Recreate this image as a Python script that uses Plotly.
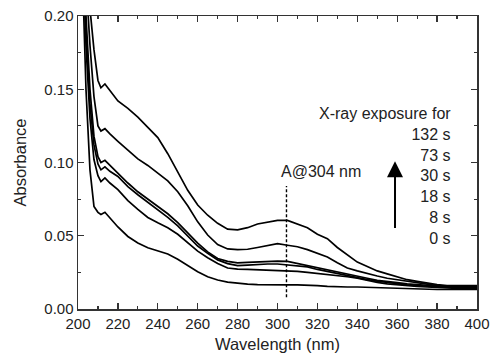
import plotly.graph_objects as go

wavelength = [200, 202, 204, 206, 208, 210, 211.5, 213.5, 216, 220, 225, 230, 235, 240, 245,
              250, 255, 260, 265, 270, 275, 280, 285, 290, 295, 300, 305, 310, 315, 320,
              325, 330, 335, 340, 345, 350, 355, 360, 365, 370, 375, 380, 385, 390, 395, 400]

abs_132s = [0.40, 0.32, 0.25, 0.205, 0.177, 0.156, 0.151, 0.1536, 0.149, 0.142, 0.137, 0.131, 0.124, 0.117, 0.106,
            0.093, 0.081, 0.071, 0.064, 0.0585, 0.0545, 0.054, 0.0555, 0.058, 0.0595, 0.0605, 0.0605, 0.058, 0.0555, 0.051,
            0.048, 0.042, 0.037, 0.032, 0.029, 0.026, 0.024, 0.022, 0.020, 0.0188, 0.0175, 0.0166, 0.016, 0.016, 0.016, 0.016]
abs_73s = [0.38, 0.30, 0.225, 0.18, 0.145, 0.125, 0.1215, 0.1231, 0.1195, 0.1145, 0.1085, 0.1025, 0.098, 0.093, 0.0875,
           0.080, 0.0705, 0.0595, 0.0505, 0.044, 0.041, 0.0405, 0.0408, 0.042, 0.0435, 0.0446, 0.0435, 0.0425, 0.0405, 0.038,
           0.0355, 0.0315, 0.028, 0.026, 0.024, 0.0225, 0.021, 0.020, 0.0188, 0.0177, 0.017, 0.016, 0.0155, 0.0155, 0.0155, 0.0155]
abs_30s = [0.36, 0.28, 0.20, 0.15, 0.118, 0.104, 0.100, 0.1015, 0.098, 0.093, 0.086, 0.080, 0.075, 0.0705, 0.065,
           0.059, 0.052, 0.045, 0.039, 0.0345, 0.0325, 0.0315, 0.0318, 0.0322, 0.0325, 0.0327, 0.0325, 0.031, 0.0296, 0.028,
           0.0265, 0.0252, 0.024, 0.0225, 0.021, 0.0195, 0.0185, 0.018, 0.0172, 0.0166, 0.016, 0.0155, 0.0152, 0.015, 0.015, 0.015]
abs_18s = [0.35, 0.27, 0.19, 0.14, 0.112, 0.099, 0.095, 0.097, 0.094, 0.0905, 0.0835, 0.078, 0.073, 0.068, 0.0625,
           0.0568, 0.050, 0.043, 0.038, 0.0335, 0.031, 0.0296, 0.030, 0.0305, 0.0307, 0.0307, 0.0302, 0.0295, 0.0287, 0.027,
           0.0255, 0.0242, 0.023, 0.0215, 0.020, 0.019, 0.018, 0.0172, 0.0165, 0.016, 0.0155, 0.015, 0.0148, 0.0145, 0.0145, 0.0145]
abs_8s = [0.34, 0.26, 0.18, 0.13, 0.102, 0.091, 0.087, 0.0895, 0.086, 0.0815, 0.074, 0.068, 0.0625, 0.0588, 0.0555,
          0.051, 0.0455, 0.0395, 0.035, 0.031, 0.028, 0.0272, 0.027, 0.0268, 0.0267, 0.0265, 0.0263, 0.0257, 0.025, 0.0243,
          0.0235, 0.0228, 0.022, 0.021, 0.0195, 0.0182, 0.0172, 0.0165, 0.016, 0.0155, 0.015, 0.0145, 0.0142, 0.014, 0.014, 0.014]
abs_0s = [0.33, 0.24, 0.15, 0.095, 0.070, 0.066, 0.0645, 0.066, 0.062, 0.056, 0.0495, 0.045, 0.0418, 0.0395, 0.0375,
          0.034, 0.0295, 0.0255, 0.022, 0.0198, 0.0183, 0.0175, 0.017, 0.0167, 0.0165, 0.0165, 0.0165, 0.0165, 0.0165, 0.016,
          0.0155, 0.015, 0.015, 0.015, 0.0148, 0.0145, 0.014, 0.0138, 0.0137, 0.0135, 0.0134, 0.0133, 0.0133, 0.0133, 0.0133, 0.0133]

series = [abs_0s, abs_8s, abs_18s, abs_30s, abs_73s, abs_132s]
exposure_labels = ["132 s", "73 s", "30 s", "18 s", "8 s", "0 s"]
legend_title = "X-ray exposure for"
marker_nm = 304.5
marker_range = [0.008, 0.084]
marker_label = "A@304 nm"

FONT = "Liberation Sans, Arial, sans-serif"

fig = go.Figure()
for ys in series:
    fig.add_trace(go.Scatter(x=wavelength, y=ys, mode="lines",
                             line=dict(color="black", width=1.7), showlegend=False,
                             hoverinfo="skip"))

fig.add_trace(go.Scatter(x=[marker_nm, marker_nm], y=marker_range, mode="lines",
                         line=dict(color="black", width=1.4, dash="3px,2px"), showlegend=False,
                         hoverinfo="skip"))

fig.add_annotation(x=marker_nm + 17.5, y=0.0936, text=marker_label, showarrow=False,
                   font=dict(size=16, color="#222", family=FONT), xanchor="center", yanchor="middle")

fig.add_annotation(x=388.1, y=0.0906, xref="x", yref="y",
                   text="<br>".join([legend_title] + exposure_labels),
                   showarrow=False, align="right", xanchor="right", yanchor="middle",
                   font=dict(size=16, color="#222", family=FONT))

fig.add_annotation(x=358.9, y=0.1008, ax=358.9, ay=0.0542, xref="x", yref="y",
                   axref="x", ayref="y", text="", showarrow=True,
                   arrowhead=2, arrowsize=1.6, arrowwidth=2, arrowcolor="black")

axis_common = dict(showline=True, linecolor="#333", linewidth=1.5, mirror="ticks",
                   ticks="inside", ticklen=6, tickwidth=1.3, tickcolor="#333",
                   showgrid=False, zeroline=False,
                   tickfont=dict(size=15, color="#222", family=FONT))

fig.update_xaxes(range=[200, 400], dtick=20, tick0=200,
                 minor=dict(dtick=10, ticks="inside", ticklen=3, tickcolor="#333", tickwidth=1.2),
                 title=dict(text="Wavelength (nm)", font=dict(size=16.5, color="#222", family=FONT), standoff=8),
                 **axis_common)
fig.update_yaxes(range=[0, 0.2], dtick=0.05, tick0=0, tickformat=".2f",
                 minor=dict(dtick=0.025, ticks="inside", ticklen=3, tickcolor="#333", tickwidth=1.2),
                 title=dict(text="Absorbance", font=dict(size=16.5, color="#222", family=FONT), standoff=13),
                 **axis_common)

fig.update_layout(width=491, height=358, margin=dict(l=78, r=14, t=16, b=49, autoexpand=False),
                  plot_bgcolor="white", paper_bgcolor="white", hovermode=False,
                  font=dict(family=FONT, color="#222"))

fig.write_html("out.html", config={"displayModeBar": False, "staticPlot": True},
               post_script="document.body.style.margin='0';document.body.style.overflow='hidden';")
